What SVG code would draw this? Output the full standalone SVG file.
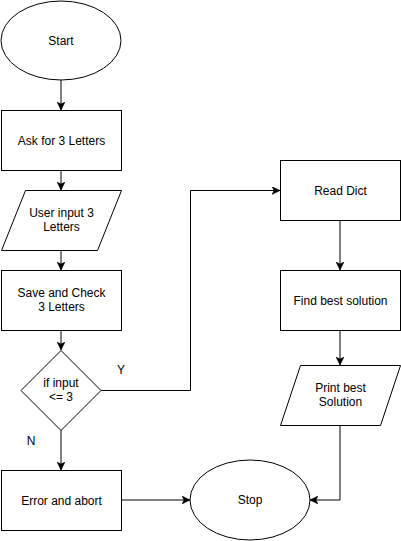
<svg xmlns="http://www.w3.org/2000/svg" width="401" height="541" viewBox="0 0 401 541">
<defs>
<style>
.shape{fill:#fff;stroke:#000;stroke-width:1}
.conn{fill:none;stroke:#000;stroke-width:1}
.lbl{font-family:"Liberation Sans",Arial,Helvetica,sans-serif;font-size:12px;fill:#000;text-anchor:middle;dominant-baseline:central}
</style>
<marker id="arr" viewBox="0 0 8 8" refX="8" refY="4" markerWidth="8" markerHeight="8" markerUnits="userSpaceOnUse" orient="auto">
<path d="M0,0 L8,4 L0,8 L2,4 z" fill="#000" stroke="#000" stroke-width="0.5"/>
</marker>
</defs>
<rect width="401" height="541" fill="#fff"/>
<g id="connectors">
<path class="conn" d="M61,80 L61,110" marker-end="url(#arr)"/>
<path class="conn" d="M61,170 L61,190" marker-end="url(#arr)"/>
<path class="conn" d="M61,250 L61,270" marker-end="url(#arr)"/>
<path class="conn" d="M61,330 L61,350" marker-end="url(#arr)"/>
<path class="conn" d="M61,430 L61,470" marker-end="url(#arr)"/>
<path class="conn" d="M121,500 L190,500" marker-end="url(#arr)"/>
<path class="conn" d="M101,390.5 L190.5,390.5 L190.5,190.5 L280,190.5" marker-end="url(#arr)"/>
<path class="conn" d="M340,220 L340,270" marker-end="url(#arr)"/>
<path class="conn" d="M340,330 L340,365" marker-end="url(#arr)"/>
<path class="conn" d="M340,425 L340,500 L310,500" marker-end="url(#arr)"/>
<text class="lbl" x="121" y="370">Y</text>
<text class="lbl" x="31" y="441">N</text>
</g>
<g id="start">
<ellipse class="shape" cx="61" cy="40.5" rx="60" ry="39.5"/>
<text class="lbl" x="61" y="40.5">Start</text>
</g>
<g id="ask">
<rect class="shape" x="1.5" y="110.5" width="120" height="60"/>
<text class="lbl" x="61.5" y="140.5">Ask for 3 Letters</text>
</g>
<g id="userinput">
<path class="shape" d="M25.5,190.5 L121.5,190.5 L97.5,250.5 L1.5,250.5 Z"/>
<text class="lbl" x="61.5" y="213">User input 3</text>
<text class="lbl" x="61.5" y="227">Letters</text>
</g>
<g id="save">
<rect class="shape" x="1.5" y="270.5" width="120" height="60"/>
<text class="lbl" x="61.5" y="293">Save and Check</text>
<text class="lbl" x="61.5" y="307">3 Letters</text>
</g>
<g id="decision">
<path class="shape" d="M61,350.5 L101,390.5 L61,430.5 L21,390.5 Z"/>
<text class="lbl" x="61" y="383">if input</text>
<text class="lbl" x="61" y="397">&lt;= 3</text>
</g>
<g id="error">
<rect class="shape" x="1.5" y="470.5" width="120" height="60"/>
<text class="lbl" x="61.5" y="500.5">Error and abort</text>
</g>
<g id="readdict">
<rect class="shape" x="280.5" y="160.5" width="120" height="60"/>
<text class="lbl" x="340.5" y="190.5">Read Dict</text>
</g>
<g id="findbest">
<rect class="shape" x="280.5" y="270.5" width="120" height="60"/>
<text class="lbl" x="340.5" y="300.5">Find best solution</text>
</g>
<g id="printbest">
<path class="shape" d="M300.5,365.5 L400.5,365.5 L380.5,425.5 L280.5,425.5 Z"/>
<text class="lbl" x="340.5" y="388">Print best</text>
<text class="lbl" x="340.5" y="402">Solution</text>
</g>
<g id="stop">
<ellipse class="shape" cx="250" cy="500" rx="60" ry="40"/>
<text class="lbl" x="250" y="500">Stop</text>
</g>
</svg>
